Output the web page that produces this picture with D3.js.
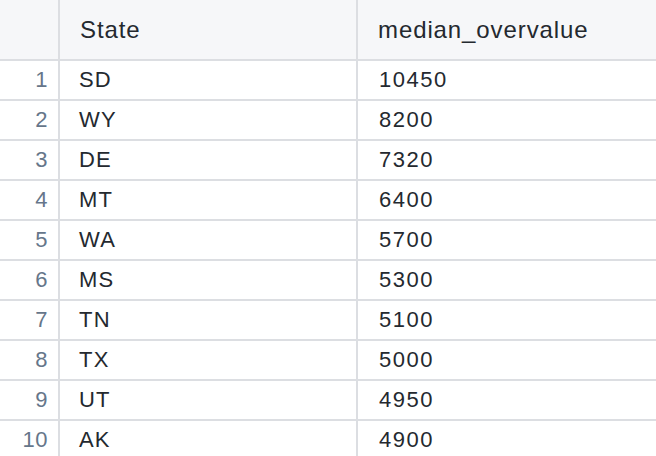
<!DOCTYPE html>
<html><head><meta charset="utf-8">
<script src="https://cdn.jsdelivr.net/npm/d3@7"></script>
<style>body{margin:0;background:#fff}</style>
</head><body>
<svg id="t" width="656" height="456"></svg>
<script>
var columns = ["State", "median_overvalue"];
var states = ["SD","WY","DE","MT","WA","MS","TN","TX","UT","AK"];
var values = [10450, 8200, 7320, 6400, 5700, 5300, 5100, 5000, 4950, 4900];

var svg = d3.select("#t");
var headH = 60, rowH = 40;
var colEdges = [0, 59, 357, 656];
var font = "'Liberation Sans', Arial, sans-serif";
var line = "#dcdee2";

svg.append("rect").attr("x",0).attr("y",0).attr("width",656).attr("height",headH).attr("fill","#f6f7f9");

var y = d3.scaleLinear().domain([0,1]).range([headH, headH+rowH]);

// horizontal lines
for (var i=0;i<=states.length;i++){
  svg.append("line").attr("x1",0).attr("x2",656)
    .attr("y1",y(i)).attr("y2",y(i)).attr("stroke",line).attr("stroke-width",2);
}
// vertical lines
[59,357].forEach(function(x){
  svg.append("line").attr("x1",x).attr("x2",x).attr("y1",0).attr("y2",456)
    .attr("stroke",line).attr("stroke-width",2);
});

columns.forEach(function(c,i){
  svg.append("text").attr("x",colEdges[i+1]+21).attr("y",headH/2+8)
    .attr("font-family",font).attr("font-size",24).attr("letter-spacing",0.9)
    .attr("fill","#24292f").text(c);
});

var rows = svg.selectAll("g.row").data(states).enter().append("g").attr("class","row");
rows.append("text").attr("x",48).attr("y",function(d,i){return y(i)+rowH/2+7;})
  .attr("text-anchor","end").attr("font-family",font).attr("font-size",22).attr("letter-spacing",0.5)
  .attr("fill","#66768a").text(function(d,i){return i+1;});
rows.append("text").attr("x",79).attr("y",function(d,i){return y(i)+rowH/2+7;})
  .attr("font-family",font).attr("font-size",22).attr("letter-spacing",1.2)
  .attr("fill","#24292f").text(function(d){return d;});
rows.append("text").attr("x",379).attr("y",function(d,i){return y(i)+rowH/2+7;})
  .attr("font-family",font).attr("font-size",22).attr("letter-spacing",1.5)
  .attr("fill","#24292f").text(function(d,i){return values[i];});
</script>
</body></html>
